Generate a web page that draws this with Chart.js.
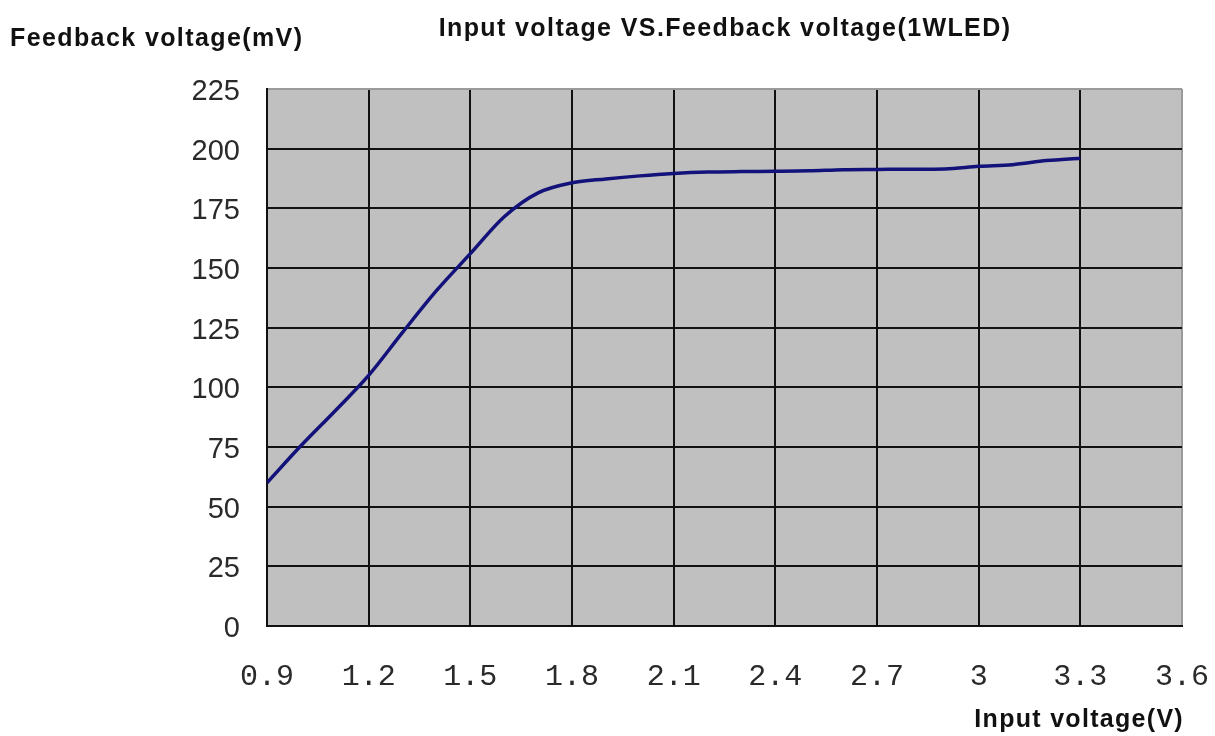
<!DOCTYPE html>
<html>
<head>
<meta charset="utf-8">
<script src="https://cdn.jsdelivr.net/npm/chart.js@4.4.1/dist/chart.umd.min.js"></script>
<style>
  html, body { margin: 0; padding: 0; background: #ffffff; }
  #wrap { width: 1215px; height: 736px; position: relative; }
</style>
</head>
<body>
<div id="wrap"><canvas id="c" width="1215" height="736"></canvas></div>
<script>
// ---- data ----
const inputVoltage = [0.9, 1.0, 1.1, 1.2, 1.3, 1.4, 1.5, 1.6, 1.7, 1.8, 1.9, 2.0, 2.1, 2.2, 2.3, 2.4, 2.5, 2.6, 2.7, 2.8, 2.9, 3.0, 3.1, 3.2, 3.3];
const feedbackVoltage = [60, 75.5, 90, 105, 123, 140.5, 156, 171.5, 181.5, 185.7, 187.3, 188.6, 189.6, 190.2, 190.4, 190.5, 190.7, 191.2, 191.3, 191.4, 191.5, 192.6, 193.3, 195, 196];
const xTickValues = [0.9, 1.2, 1.5, 1.8, 2.1, 2.4, 2.7, 3.0, 3.3, 3.6];
const xTickLabels = ["0.9", "1.2", "1.5", "1.8", "2.1", "2.4", "2.7", "3", "3.3", "3.6"];
const yTickValues = [0, 25, 50, 75, 100, 125, 150, 175, 200, 225];
const yTickLabels = ["0", "25", "50", "75", "100", "125", "150", "175", "200", "225"];
const chartTitle = "Input voltage VS.Feedback voltage(1WLED)";
const yAxisTitle = "Feedback voltage(mV)";
const xAxisTitle = "Input voltage(V)";

const points = inputVoltage.map((x, i) => ({ x: x, y: feedbackVoltage[i] }));

const bgPlugin = {
  id: 'plotBg',
  beforeDraw(chart) {
    const { ctx, chartArea: a } = chart;
    ctx.save();
    ctx.fillStyle = '#ffffff';
    ctx.fillRect(0, 0, chart.width, chart.height);
    ctx.fillStyle = '#c0c0c0';
    ctx.fillRect(a.left, a.top, a.right - a.left, a.bottom - a.top);
    ctx.restore();
  }
};

const textPlugin = {
  id: 'texts',
  afterDraw(chart) {
    const ctx = chart.ctx;
    ctx.save();
    ctx.fillStyle = '#111111';
    ctx.font = 'bold 25px "Liberation Sans", Arial, sans-serif';
    ctx.letterSpacing = '1.4px';
    ctx.textBaseline = 'alphabetic';
    ctx.textAlign = 'center';
    ctx.fillText(chartTitle, 725, 36);
    ctx.textAlign = 'left';
    ctx.letterSpacing = '1.4px';
    ctx.fillText(yAxisTitle, 10, 46);
    ctx.textAlign = 'right';
    ctx.letterSpacing = '1.3px';
    ctx.fillText(xAxisTitle, 1184, 727);
    ctx.restore();
  }
};

new Chart(document.getElementById('c'), {
  type: 'line',
  data: {
    datasets: [{
      data: points,
      borderColor: '#12127a',
      borderWidth: 3.5,
      pointRadius: 0,
      fill: false,
      cubicInterpolationMode: 'monotone'
    }]
  },
  options: {
    responsive: false,
    animation: false,
    devicePixelRatio: 1,
    layout: { padding: { left: 0, top: 89, right: 33, bottom: 0 } },
    plugins: {
      legend: { display: false },
      title: { display: false },
      tooltip: { enabled: false }
    },
    scales: {
      x: {
        type: 'linear',
        min: 0.9,
        max: 3.6,
        afterBuildTicks(scale) { scale.ticks = xTickValues.map(v => ({ value: v })); },
        afterFit(scale) { scale.height = 110; scale.paddingLeft = 0; scale.paddingRight = 0; },
        ticks: {
          padding: 33,
          color: '#2a2a2a',
          font: { family: '"Liberation Mono", "DejaVu Sans Mono", monospace', size: 30 },
          maxRotation: 0,
          autoSkip: false,
          callback(value, index) { return xTickLabels[index]; }
        },
        grid: {
          drawTicks: false,
          lineWidth: 2,
          color(ctx) { return ctx.index === xTickValues.length - 1 ? '#9a9a9a' : '#111111'; }
        },
        border: { display: true, color: '#111111', width: 2 }
      },
      y: {
        type: 'linear',
        min: 0,
        max: 225,
        afterBuildTicks(scale) { scale.ticks = yTickValues.map(v => ({ value: v })); },
        afterFit(scale) { scale.width = 267; scale.paddingTop = 0; scale.paddingBottom = 0; },
        ticks: {
          padding: 27,
          labelOffset: 3,
          color: '#2a2a2a',
          font: { family: '"Liberation Sans", Arial, sans-serif', size: 29 },
          autoSkip: false,
          callback(value, index) { return yTickLabels[index]; }
        },
        grid: {
          drawTicks: false,
          lineWidth: 2,
          color(ctx) { return ctx.index === yTickValues.length - 1 ? '#9a9a9a' : '#111111'; }
        },
        border: { display: true, color: '#111111', width: 2 }
      }
    }
  },
  plugins: [bgPlugin, textPlugin]
});
</script>
</body>
</html>
